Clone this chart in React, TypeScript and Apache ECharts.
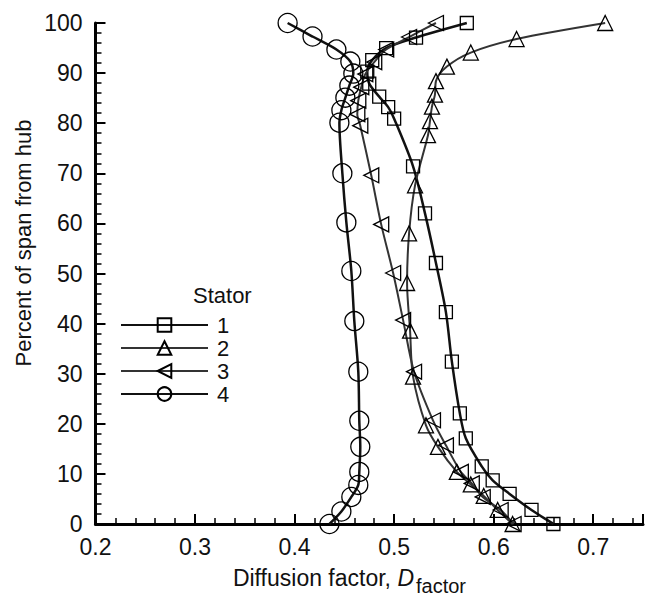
import React, { useEffect, useRef } from 'react';
import * as echarts from 'echarts';

// Stator 1 (squares)
const stator1X = [0.573, 0.522, 0.492, 0.478, 0.473, 0.475, 0.485, 0.494, 0.500, 0.519, 0.531, 0.542, 0.552, 0.558, 0.566, 0.572, 0.588, 0.599, 0.616, 0.638, 0.660];
const stator1Y = [100, 97.1, 95.0, 92.6, 90.3, 87.9, 85.3, 83.2, 80.9, 71.4, 62.0, 52.1, 42.3, 32.4, 22.1, 17.1, 11.5, 8.7, 6.0, 2.8, 0];
// Stator 2 (up triangles)
const stator2X = [0.712, 0.623, 0.577, 0.553, 0.542, 0.541, 0.538, 0.536, 0.534, 0.521, 0.515, 0.513, 0.516, 0.519, 0.532, 0.544, 0.563, 0.577, 0.590, 0.604, 0.619];
const stator2Y = [100, 96.8, 94.1, 91.3, 88.4, 85.7, 83.3, 80.4, 77.6, 67.6, 58.0, 48.1, 38.6, 29.4, 19.7, 15.4, 10.4, 7.9, 5.6, 2.8, 0];
// Stator 3 (left triangles)
const stator3X = [0.542, 0.515, 0.492, 0.480, 0.471, 0.467, 0.464, 0.463, 0.466, 0.477, 0.487, 0.499, 0.509, 0.520, 0.539, 0.552, 0.567, 0.578, 0.589, 0.607, 0.620];
const stator3Y = [100, 97.2, 94.7, 92.2, 89.8, 87.2, 84.5, 81.8, 79.5, 69.6, 59.8, 50.1, 40.7, 30.4, 20.7, 15.7, 10.4, 8.1, 5.4, 2.8, 0];
// Stator 4 (circles)
const stator4X = [0.393, 0.418, 0.442, 0.456, 0.459, 0.455, 0.451, 0.447, 0.445, 0.448, 0.452, 0.457, 0.460, 0.464, 0.465, 0.466, 0.465, 0.464, 0.457, 0.447, 0.435];
const stator4Y = [100, 97.3, 94.7, 92.3, 89.9, 87.5, 85.1, 82.6, 80.1, 70.0, 60.2, 50.5, 40.5, 30.4, 20.6, 15.4, 10.4, 7.8, 5.4, 2.5, 0];

const seriesNames = ['1', '2', '3', '4'];
const legendTitle = 'Stator';
const yAxisTitle = 'Percent of span from hub';
const xAxisTitleMain = 'Diffusion factor, ';
const xAxisTitleSym = 'D';
const xAxisTitleSub = 'factor';

const FONT = '"Liberation Sans", Arial, Helvetica, sans-serif';
const INK = '#111';

function pairs(xs: number[], ys: number[]) {
  return xs.map((x, i) => [x, ys[i]]);
}

function makeSeries(name: string, data: number[][], symbol: string, size: number, rotate: number, lw: number, color: string) {
  return {
    name,
    type: 'line',
    data,
    symbol,
    symbolSize: size,
    symbolRotate: rotate,
    smooth: 0.3,
    clip: false,
    lineStyle: { color, width: lw },
    itemStyle: { color: 'rgba(0,0,0,0)', borderColor: '#000', borderWidth: 1.3 },
    emphasis: { disabled: true },
  };
}

export default function App() {
  const ref = useRef<HTMLDivElement>(null);
  useEffect(() => {
    if (!ref.current) return;
    const chart = echarts.init(ref.current, undefined, { renderer: 'svg' });
    const option: any = {
      animation: false,
      backgroundColor: '#fff',
      textStyle: { fontFamily: FONT },
      grid: { left: 95.5, right: 3, top: 23, bottom: 72, containLabel: false },
      xAxis: {
        type: 'value',
        min: 0.2,
        max: 0.75,
        interval: 0.1,
        axisLine: { show: true, onZero: false, lineStyle: { color: '#000', width: 3 } },
        axisTick: { show: true, inside: true, length: 10, lineStyle: { color: '#000', width: 2 } },
        minorTick: { show: true, splitNumber: 5, length: 6, lineStyle: { color: '#000', width: 1.5 } },
        splitLine: { show: false },
        axisLabel: {
          show: true, showMaxLabel: false, margin: 11, fontSize: 23, color: INK, fontFamily: FONT,
          formatter: (v: number) => v.toFixed(1),
        },
      },
      yAxis: {
        type: 'value',
        min: 0,
        max: 100,
        interval: 10,
        axisLine: { show: true, onZero: false, lineStyle: { color: '#000', width: 3 } },
        axisTick: { show: true, inside: true, length: 10, lineStyle: { color: '#000', width: 2 } },
        minorTick: { show: true, splitNumber: 5, length: 6, lineStyle: { color: '#000', width: 1.5 } },
        splitLine: { show: false },
        axisLabel: { show: true, margin: 13, fontSize: 23, color: INK, fontFamily: FONT },
      },
      legend: {
        orient: 'vertical',
        left: 115,
        top: 309,
        padding: 5,
        itemWidth: 87,
        itemHeight: 17,
        itemGap: 1,
        selectedMode: false,
        data: seriesNames,
        textStyle: { fontSize: 22, color: INK, fontFamily: FONT, padding: [0, 0, 0, 4] },
      },
      graphic: [
        {
          type: 'text', x: 193, y: 295,
          style: { text: legendTitle, fontSize: 22, fontFamily: FONT, fill: INK, align: 'left', verticalAlign: 'middle', textAlign: 'left', textVerticalAlign: 'middle' },
        },
        {
          type: 'text', x: 23, y: 243, rotation: Math.PI / 2,
          style: { text: yAxisTitle, fontSize: 22, fontFamily: FONT, fill: INK, align: 'center', verticalAlign: 'middle', textAlign: 'center', textVerticalAlign: 'middle' },
        },
        {
          type: 'text', x: 414, y: 578,
          style: {
            text: '{a|' + xAxisTitleMain + '}{b|' + xAxisTitleSym + '}',
            rich: {
              a: { fontSize: 23, fontFamily: FONT, fill: INK, color: INK },
              b: { fontSize: 23, fontFamily: FONT, fontStyle: 'italic', fill: INK, color: INK },
            },
            fontSize: 23, fontFamily: FONT, fill: INK,
            align: 'right', verticalAlign: 'middle', textAlign: 'right', textVerticalAlign: 'middle',
          },
        },
        {
          type: 'text', x: 416, y: 586,
          style: { text: xAxisTitleSub, fontSize: 20, fontFamily: FONT, fill: INK, align: 'left', verticalAlign: 'middle', textAlign: 'left', textVerticalAlign: 'middle' },
        },
      ],
      series: [
        makeSeries(seriesNames[0], pairs(stator1X, stator1Y), 'rect', 13, 0, 2.5, '#111'),
        makeSeries(seriesNames[1], pairs(stator2X, stator2Y), 'triangle', 15, 0, 2, '#333'),
        makeSeries(seriesNames[2], pairs(stator3X, stator3Y), 'triangle', 15, 90, 2, '#333'),
        makeSeries(seriesNames[3], pairs(stator4X, stator4Y), 'circle', 19, 0, 2.5, '#111'),
      ],
    };
    chart.setOption(option);
    return () => chart.dispose();
  }, []);
  return (
    <div
      ref={ref}
      style={{ position: 'fixed', left: 0, top: 0, width: 646, height: 596, overflow: 'hidden', background: '#fff' }}
    />
  );
}
